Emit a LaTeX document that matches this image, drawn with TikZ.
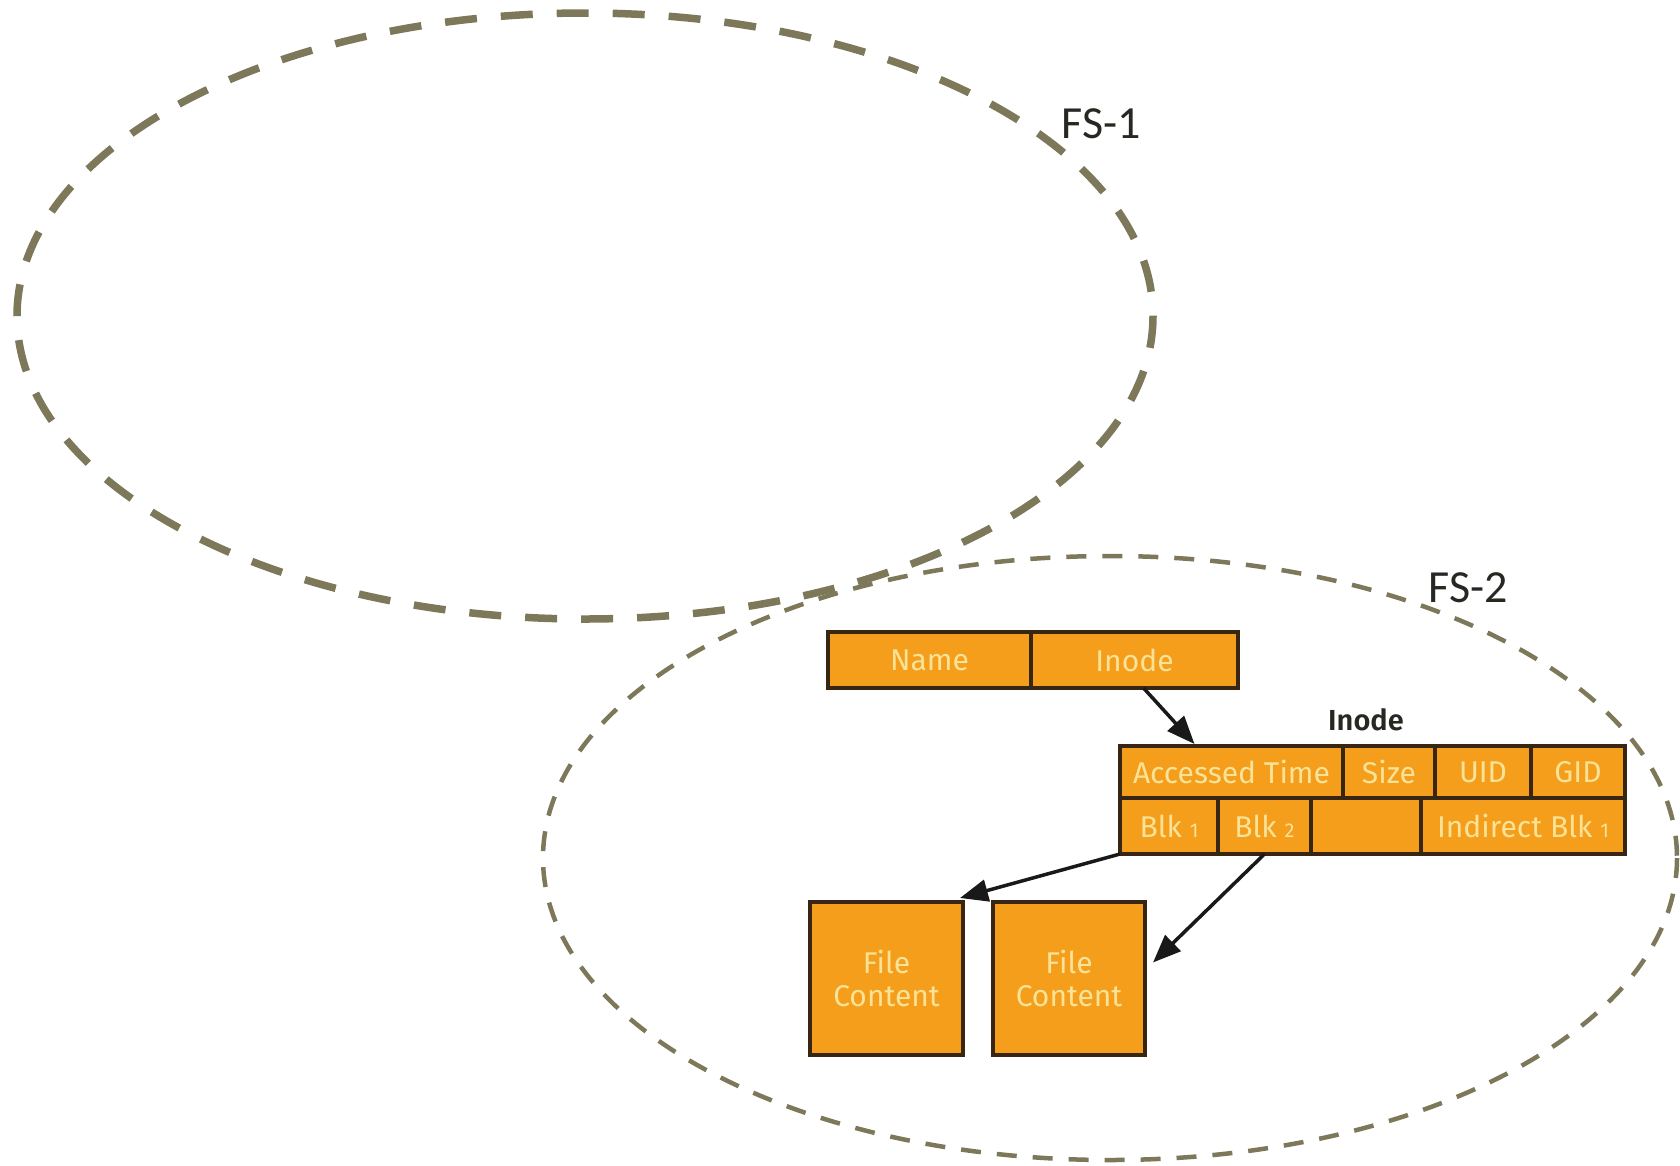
\documentclass[tikz,border=0pt]{standalone}
\usepackage{fontspec}
\setmainfont{Carlito}
\newfontfamily\boxfont{Fira Sans}
\newfontfamily\boxfontb{Fira Sans SemiBold}
\usetikzlibrary{arrows.meta}
\definecolor{olivec}{RGB}{125,120,90}
\definecolor{orangec}{RGB}{244,158,28}
\definecolor{borderc}{RGB}{55,38,18}
\definecolor{palec}{RGB}{250,226,150}
\definecolor{labelc}{RGB}{40,40,35}
\tikzset{
  fsbig/.style={draw=olivec, line width=7.5pt, dash pattern=on 32pt off 24pt},
  fssmall/.style={draw=olivec, line width=4.5pt, dash pattern=on 20pt off 16pt},
  cell/.style={draw=borderc, fill=orangec, line width=3.5pt, inner sep=0pt, outer sep=0pt,
    text=palec, font=\boxfont\fontsize{30}{33}\selectfont, anchor=center},
  fslabel/.style={text=labelc, font=\fontsize{46}{50}\selectfont, inner sep=0pt},
  ptr/.style={draw=black!90, line width=3.5pt, -{Triangle[length=28pt,width=22pt]}},
}
\newcommand{\sml}[1]{{\fontsize{20}{22}\selectfont #1}}
\begin{document}
\begin{tikzpicture}[x=1pt,y=-1pt]
\useasboundingbox (0,0) rectangle (1680,1165);
% ellipses
\draw[fssmall] (1110,858) ellipse [x radius=567, y radius=302];
\draw[fsbig] (585,316) ellipse [x radius=568, y radius=303];
\node[fslabel] (fs1) at (1101,124) {FS-1};
\node[fslabel] (fs2) at (1468,588) {FS-2};
% directory entry
\node[cell, minimum width=203pt, minimum height=56pt] (name) at (929.5,660) {Name};
\node[cell, minimum width=207pt, minimum height=56pt] (inodecell) at (1134.5,660) {Inode};
% inode label
\node[text=labelc, font=\boxfontb\fontsize{29}{32}\selectfont, inner sep=0pt] (inodelbl) at (1366,720) {Inode};
% inode row 1
\node[cell, minimum width=223pt, minimum height=52pt] (atime) at (1231.5,772) {Accessed Time};
\node[cell, minimum width=92pt, minimum height=52pt] (size) at (1389,772) {Size};
\node[cell, minimum width=96pt, minimum height=52pt] (uid) at (1483,772) {UID};
\node[cell, minimum width=94pt, minimum height=52pt] (gid) at (1578,772) {GID};
% inode row 2
\node[cell, minimum width=98pt, minimum height=56pt] (blk1) at (1169,826) {Blk \sml{1}};
\node[cell, minimum width=93pt, minimum height=56pt] (blk2) at (1264.5,826) {Blk \sml{2}};
\node[cell, minimum width=110pt, minimum height=56pt] (empty) at (1366,826) {};
\node[cell, minimum width=204pt, minimum height=56pt] (ind) at (1523,826) {Indirect Blk \sml{1}};
% file content
\node[cell, minimum width=153pt, minimum height=153pt, align=center] (file1) at (886.5,978.5) {File\\Content};
\node[cell, minimum width=152pt, minimum height=153pt, align=center] (file2) at (1069,978.5) {File\\Content};
% arrows
\draw[ptr] ([xshift=9pt]inodecell.south) -- ([xshift=-37pt,yshift=2pt]atime.north);
\draw[ptr] (blk1.south west) -- ([xshift=-3pt,yshift=4pt]file1.north east);
\draw[ptr] (blk2.south) -- ([xshift=8pt,yshift=16pt]file2.east);
\end{tikzpicture}
\end{document}
